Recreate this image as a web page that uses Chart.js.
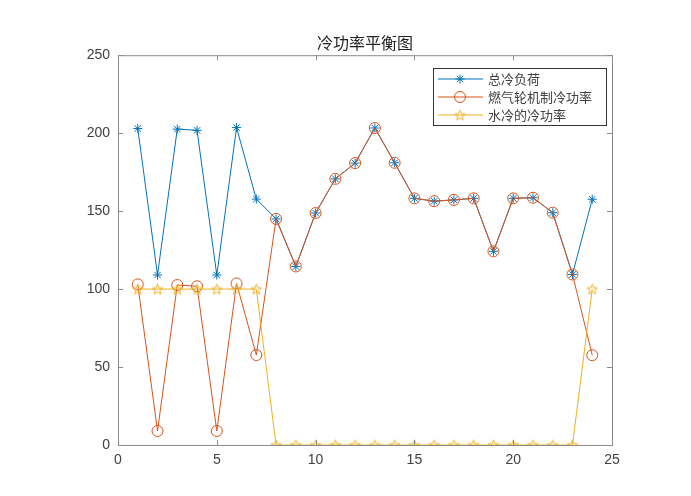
<!DOCTYPE html>
<html>
<head>
<meta charset="utf-8">
<script src="https://cdn.jsdelivr.net/npm/chart.js@4/dist/chart.umd.min.js"></script>
<style>
  body { margin: 0; background: #fff; }
  canvas { display: block; }
</style>
</head>
<body>
<canvas id="c" width="691" height="496"></canvas>
<script>
const hours = [1, 2, 3, 4, 5, 6, 7, 8, 9, 10, 11, 12, 13, 14, 15, 16, 17, 18, 19, 20, 21, 22, 23, 24];
const totalLoad = [203, 109, 202.6, 201.8, 109, 203.6, 157.7, 145, 114.5, 148.8, 170.7, 180.8, 203.3, 181, 158.2, 156.4, 157.2, 158.2, 124.2, 158.2, 158.6, 149, 109.4, 157.6];
const gasTurbine = [103, 9, 102.6, 101.8, 9, 103.6, 57.7, 145, 114.5, 148.8, 170.7, 180.8, 203.3, 181, 158.2, 156.4, 157.2, 158.2, 124.2, 158.2, 158.6, 149, 109.4, 57.6];
const waterCool = [100, 100, 100, 100, 100, 100, 100, 0, 0, 0, 0, 0, 0, 0, 0, 0, 0, 0, 0, 0, 0, 0, 0, 100];
const seriesNames = ['总冷负荷', '燃气轮机制冷功率', '水冷的冷功率'];
const xTicks = [0, 5, 10, 15, 20, 25];
const yTicks = [0, 50, 100, 150, 200, 250];

const blue = '#0072BD', red = '#D95319', yellow = '#EDB120';
const axisColor = '#8a8a8a', textColor = '#404040';

// pentagram marker (matlab 'p'), no built-in one in chart.js
function pentagram(color, r) {
    const size = Math.ceil(r * 2 + 4);
    const cv = document.createElement('canvas');
    cv.width = size; cv.height = size;
    const ctx = cv.getContext('2d');
    const cx = size / 2, cy = size / 2 + 0.5;
    ctx.beginPath();
    for (let i = 0; i < 10; i++) {
        const rad = i % 2 === 0 ? r : r * 0.42;
        const a = -Math.PI / 2 + i * Math.PI / 5;
        const px = cx + rad * Math.cos(a), py = cy + rad * Math.sin(a);
        if (i === 0) ctx.moveTo(px, py); else ctx.lineTo(px, py);
    }
    ctx.closePath();
    ctx.strokeStyle = color;
    ctx.lineWidth = 1;
    ctx.stroke();
    return cv;
}
const starImg = pentagram(yellow, 5.5);

function toPoints(ys) {
    return hours.map((h, i) => ({ x: h, y: ys[i] }));
}

const frameAndTicks = {
    id: 'frameAndTicks',
    afterDraw(chart) {
        const { ctx, chartArea: a, scales } = chart;
        ctx.save();
        ctx.strokeStyle = axisColor;
        ctx.lineWidth = 1;
        ctx.strokeRect(a.left + 0.5, a.top + 0.5, a.right - a.left, a.bottom - a.top);
        ctx.beginPath();
        xTicks.forEach(v => {
            const px = Math.round(scales.x.getPixelForValue(v)) + 0.5;
            ctx.moveTo(px, a.bottom); ctx.lineTo(px, a.bottom - 5);
            ctx.moveTo(px, a.top); ctx.lineTo(px, a.top + 5);
        });
        yTicks.forEach(v => {
            const py = Math.round(scales.y.getPixelForValue(v)) + 0.5;
            ctx.moveTo(a.left, py); ctx.lineTo(a.left + 5, py);
            ctx.moveTo(a.right, py); ctx.lineTo(a.right - 5, py);
        });
        ctx.stroke();

        // legend box, top right inside the axes
        const bx = 433, by = 68, bw = 173, bh = 57;
        ctx.fillStyle = '#fff';
        ctx.fillRect(bx, by, bw, bh);
        ctx.strokeStyle = '#333';
        ctx.strokeRect(bx + 0.5, by + 0.5, bw, bh);
        ctx.font = '13px "Noto Sans CJK SC"';
        ctx.textBaseline = 'middle';
        chart.data.datasets.forEach((ds, i) => {
            const yy = by + 11 + i * 18;
            ctx.strokeStyle = ds.borderColor;
            ctx.lineWidth = 1;
            ctx.beginPath();
            ctx.moveTo(bx + 5, yy); ctx.lineTo(bx + 50, yy);
            ctx.stroke();
            ctx.fillStyle = 'rgba(0,0,0,0)';
            Chart.helpers.drawPoint(ctx, {
                pointStyle: ds.pointStyle, radius: ds.pointRadius,
                rotation: 0, borderWidth: 1
            }, bx + 27, yy);
            ctx.fillStyle = textColor;
            ctx.fillText(ds.label, bx + 55, yy);
        });
        ctx.restore();
    }
};

new Chart(document.getElementById('c'), {
    type: 'line',
    plugins: [frameAndTicks],
    data: {
        datasets: [
            {
                label: seriesNames[0], data: toPoints(totalLoad), order: 3,
                borderColor: blue, borderWidth: 1, pointStyle: 'star', pointRadius: 4.5,
                pointBorderColor: blue, pointBackgroundColor: 'transparent', pointBorderWidth: 1
            },
            {
                label: seriesNames[1], data: toPoints(gasTurbine), order: 2,
                borderColor: red, borderWidth: 1, pointStyle: 'circle', pointRadius: 5.5,
                pointBorderColor: red, pointBackgroundColor: 'transparent', pointBorderWidth: 1
            },
            {
                label: seriesNames[2], data: toPoints(waterCool), order: 1,
                borderColor: yellow, borderWidth: 1, pointStyle: starImg, pointRadius: 5,
                pointBorderColor: yellow, pointBackgroundColor: 'transparent', pointBorderWidth: 1
            }
        ]
    },
    options: {
        responsive: false,
        animation: false,
        layout: { padding: { left: 0, right: 79, top: 0, bottom: 0 } },
        scales: {
            x: {
                type: 'linear', min: 0, max: 25,
                afterFit: s => { s.height = 51; },
                afterBuildTicks: s => { s.ticks = xTicks.map(v => ({ value: v })); },
                grid: { display: false, drawTicks: false },
                border: { display: false },
                ticks: { padding: 7, color: textColor, font: { family: 'Liberation Sans', size: 14 }, maxRotation: 0 }
            },
            y: {
                min: 0, max: 250,
                afterFit: s => { s.width = 118; },
                afterBuildTicks: s => { s.ticks = yTicks.map(v => ({ value: v })); },
                grid: { display: false, drawTicks: false },
                border: { display: false },
                ticks: { padding: 8, color: textColor, font: { family: 'Liberation Sans', size: 14 } }
            }
        },
        plugins: {
            legend: { display: false },
            tooltip: { enabled: false },
            title: {
                display: true,
                fullSize: false,
                text: '冷功率平衡图',
                color: '#222',
                font: { family: 'Noto Sans CJK SC', size: 16, weight: 'normal' },
                padding: { top: 33, bottom: 3 }
            }
        }
    }
});
</script>
</body>
</html>
